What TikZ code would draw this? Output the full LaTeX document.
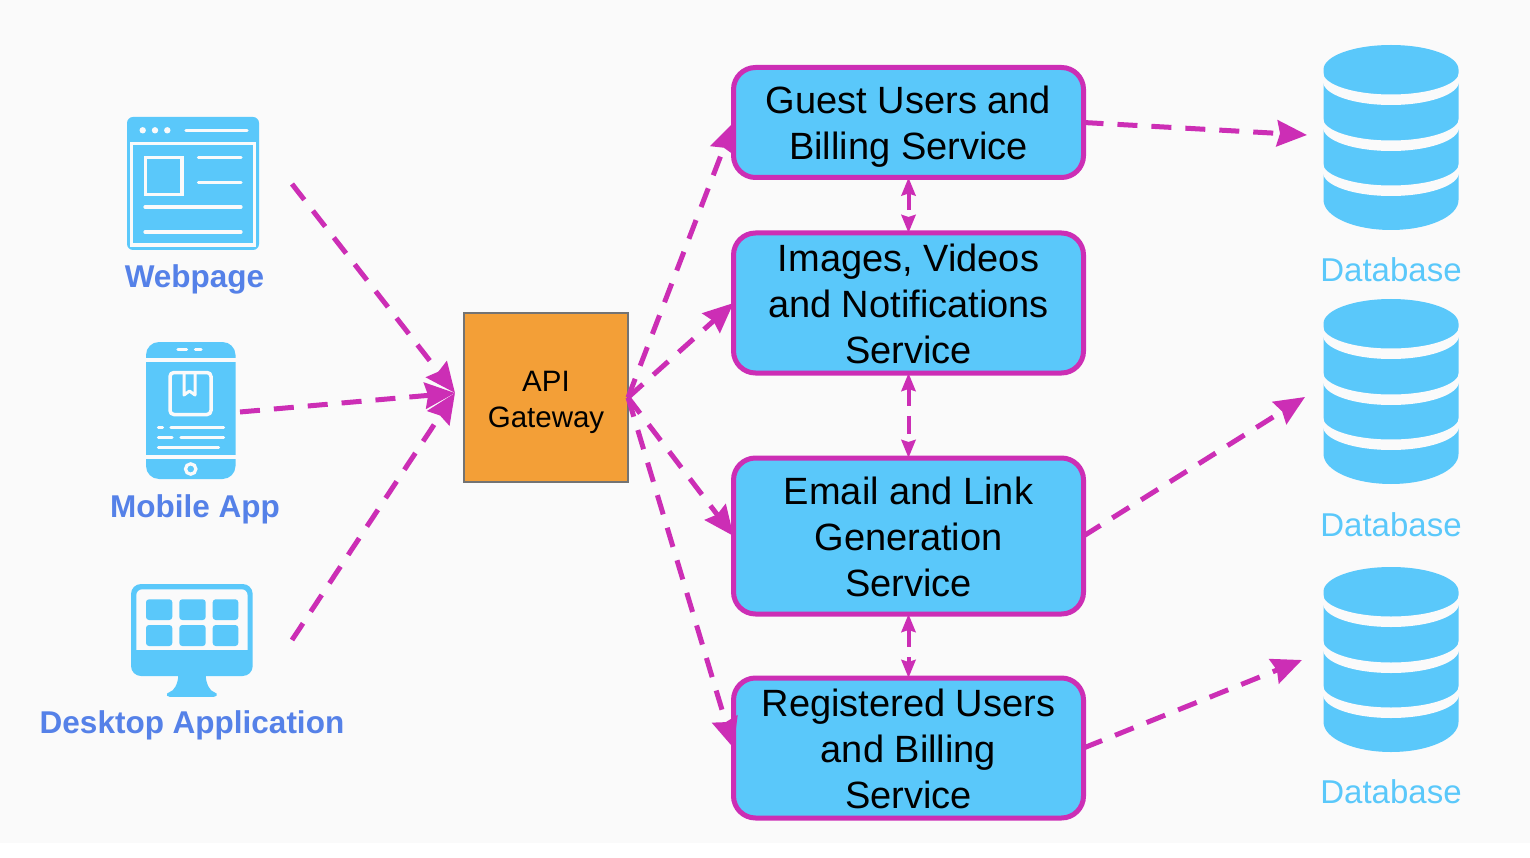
\documentclass[tikz,border=0pt]{standalone}
\usepackage{fontspec}
\setmainfont{Liberation Sans}
\usetikzlibrary{arrows.meta}
\definecolor{bgc}{HTML}{FAFAFA}
\definecolor{sky}{HTML}{5AC8FA}
\definecolor{mag}{HTML}{CC2EB5}
\definecolor{lab}{HTML}{5581E8}
\definecolor{org}{HTML}{F39F37}
\newcommand\topfill[1]{\rule{0pt}{#1pt}}
\tikzset{
  svc/.style={draw=mag,line width=5pt,fill=sky,rounded corners=22pt,minimum width=350pt,inner sep=0pt,outer sep=0pt,
    align=center,text=black,font=\fontsize{38}{46}\selectfont},
  gate/.style={draw=black!55,line width=1.2pt,fill=org,minimum width=164pt,minimum height=169pt,inner sep=0pt,outer sep=0pt,
    align=center,font=\fontsize{29.5}{36}\selectfont},
  iconlab/.style={anchor=base,text=lab,font=\fontsize{31.5}{38}\selectfont\bfseries,inner sep=0pt},
  dblab/.style={anchor=base,text=sky,font=\fontsize{33}{40}\selectfont,inner sep=0pt},
  bigflow/.style={draw=mag,line width=5pt,dash pattern=on 20pt off 14pt,-{Stealth[length=30pt,width=26pt,inset=3pt]}},
  twoway/.style={draw=mag,line width=4pt,dash pattern=on 18pt off 10pt,{Stealth[length=18pt,width=14pt,inset=2pt]}-{Stealth[length=18pt,width=14pt,inset=2pt]}},
  wl/.style={draw=bgc,line width=3.2pt,line cap=round},
  dbicon/.pic={
    \fill[sky] (-67.5,24.5) -- (-67.5,155) arc[start angle=180,end angle=0,x radius=67.5,y radius=30]
       -- (67.5,24.5) arc[start angle=0,end angle=-180,x radius=67.5,y radius=24.5] -- cycle;
    \foreach \yy [evaluate=\yy as \ya using \yy-4.5,evaluate=\yy as \yb using \yy+4.5] in {32,78,123}{
      \fill[bgc] (-68,\ya) arc[start angle=180,end angle=0,x radius=68,y radius=22]
        -- (68,\yb) arc[start angle=0,end angle=180,x radius=68,y radius=23.5] -- cycle;
    }
  }
}
\begin{document}
\begin{tikzpicture}[x=1pt,y=-1pt]
\path[use as bounding box,fill=white] (0,0) rectangle (1530,858);
\fill[bgc] (0,0) rectangle (1530,843);

% Webpage icon
\fill[sky,rounded corners=6pt] (127,117) rectangle (259,250);
\draw[bgc,line width=3.5pt] (131.5,143.5) rectangle (254.5,245);
\foreach \xx in {142.7,155,167.3}{\fill[bgc] (\xx,130.3) circle[radius=3.2pt];}
\draw[wl] (186,130.3) -- (247,130.3);
\draw[bgc,line width=3.2pt] (145.5,157.5) rectangle (182,194.5);
\draw[wl] (198.5,157.5) -- (241,157.5);
\draw[wl] (198.5,182.5) -- (241,182.5);
\draw[wl] (145,207) -- (241,207);
\draw[wl] (145,232) -- (241,232);

% Mobile icon
\fill[sky,rounded corners=13pt] (146,342) rectangle (235.5,479);
\draw[bgc,line width=4pt] (146,359.5) -- (235.5,359.5);
\draw[bgc,line width=4pt] (146,456.5) -- (235.5,456.5);
\draw[wl] (178,349.3) -- (186.5,349.3);
\draw[wl] (195.5,349.3) -- (201,349.3);
\draw[bgc,line width=3.5pt,rounded corners=4pt] (170,372.5) rectangle (211,414.5);
\draw[bgc,line width=3pt,line join=round] (184,373) -- (184,395) -- (189.5,391) -- (195,395) -- (195,373);
\draw[wl] (158.5,427.3) -- (162.5,427.3);
\draw[wl] (171,427.3) -- (223.5,427.3);
\draw[wl] (158.5,437.3) -- (172,437.3);
\draw[wl] (181,437.3) -- (223.5,437.3);
\draw[wl] (158.5,447.3) -- (218.5,447.3);
\draw[bgc,line width=3.2pt] (190.7,469) circle[radius=5.2pt];

% Desktop icon
\fill[sky,rounded corners=10pt] (131,584) rectangle (252.7,676);
\fill[bgc,rounded corners=6pt] (136.3,589.3) rectangle (247.6,660);
\fill[sky] (136,650) rectangle (248,662);
\foreach \xa/\xb in {146/172.3,179.3/205.7,212.7/238.3}{
  \fill[sky,rounded corners=3pt] (\xa,599.3) rectangle (\xb,620);
  \fill[sky,rounded corners=3pt] (\xa,625) rectangle (\xb,646);
}
\fill[sky,rounded corners=1.5pt] (178.3,674) .. controls (178,684) and (174,691) .. (168,692.5)
  -- (166,694.5) -- (168,696.8) -- (215.5,696.8) -- (217.7,694.5) -- (215.5,692.5)
  .. controls (210,691) and (206,684) .. (205.7,674) -- cycle;

% Databases
\pic at (1391,45) {dbicon};
\pic at (1391,299) {dbicon};
\pic at (1391,567) {dbicon};

% Labels
\node[iconlab] (lweb) at (194.5,288) {Webpage};
\node[iconlab] (lmob) at (195,517) {Mobile App};
\node[iconlab] (ldesk) at (192,733) {Desktop Application};
\node[dblab] (ldb1) at (1391,282) {Database};
\node[dblab] (ldb2) at (1391,536) {Database};
\node[dblab] (ldb3) at (1391,803) {Database};

% Central nodes
\node[gate] (api) at (546,397.5) {\topfill{30}API\\Gateway};
\node[svc,minimum height=110pt] (guest) at (908.5,122.5) {\topfill{35}Guest Users and\\Billing Service};
\node[svc,minimum height=140pt] (images) at (908.5,303) {\topfill{30}Images, Videos\\and Notifications\\Service};
\node[svc,minimum height=156pt] (email) at (908.5,536) {\topfill{29}Email and Link\\Generation\\Service};
\node[svc,minimum height=140pt] (reg) at (908.5,748) {\topfill{30}Registered Users\\and Billing\\Service};

% Free ends
\coordinate (fromweb) at (292,184);
\coordinate (frommob) at (240,412);
\coordinate (fromdesk) at (292,640);
\coordinate (apiin) at (455,393);
\coordinate (db1in) at (1307,135);
\coordinate (db2in) at (1305,397);
\coordinate (db3in) at (1302,660);

% Connectors
\draw[bigflow] (fromweb) -- (apiin);
\draw[bigflow] (frommob) -- (apiin);
\draw[bigflow] (fromdesk) -- (apiin);
\draw[bigflow] (api.east) -- (guest.west);
\draw[bigflow] (api.east) -- (images.west);
\draw[bigflow] (api.east) -- (email.west);
\draw[bigflow] (api.east) -- (reg.west);
\draw[bigflow] (guest.east) -- (db1in);
\draw[bigflow] (email.east) -- (db2in);
\draw[bigflow] (reg.east) -- (db3in);
\draw[twoway] (guest.south) -- (images.north);
\draw[twoway] (images.south) -- (email.north);
\draw[twoway] (email.south) -- (reg.north);
\end{tikzpicture}
\end{document}
